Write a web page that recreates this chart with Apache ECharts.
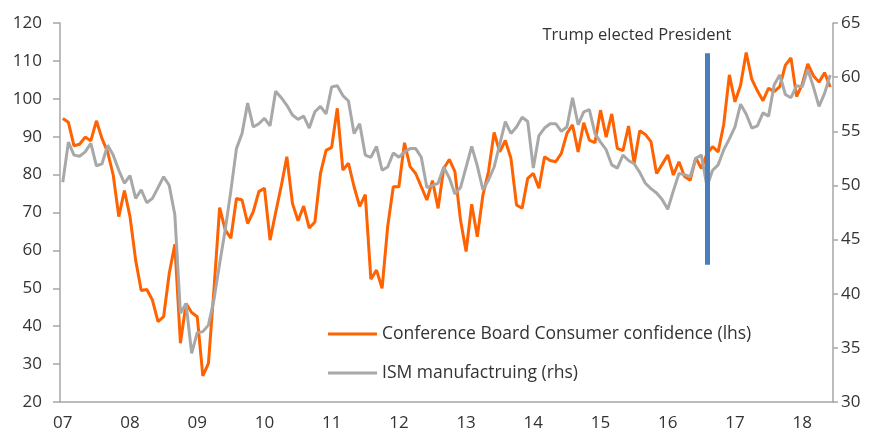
<!DOCTYPE html>
<html>
<head>
<meta charset="utf-8">
<script src="https://cdn.jsdelivr.net/npm/echarts@6/dist/echarts.min.js"></script>
<style>html,body{margin:0;padding:0;background:#fff}#c{width:872px;height:432px}</style>
</head>
<body>
<div id="c"></div>
<script>
// Monthly categories Jan 2007 – Jun 2018
const months = [];
for (let y = 2007; y <= 2018; y++) {
  for (let m = 1; m <= 12; m++) {
    if (y === 2018 && m > 6) break;
    months.push(y + '-' + (m < 10 ? '0' + m : '' + m));
  }
}

// Conference Board Consumer confidence (lhs)
const consumerConfidence = [
  94.8, 93.8, 87.6, 88.0, 89.9, 88.9, 94.2, 89.5, 86.0, 79.9, 68.9, 75.8,
  68.9, 57.5, 49.4, 49.7, 46.9, 41.2, 42.5, 53.9, 61.6, 35.5, 46.0, 43.6,
  42.5, 26.9, 30.2, 50.0, 71.3, 65.4, 63.2, 73.7, 73.3, 67.1, 70.2, 75.5,
  76.4, 62.7, 70.0, 77.0, 84.7, 72.4, 67.8, 71.7, 65.9, 67.5, 80.3, 86.4,
  87.2, 97.5, 81.2, 83.0, 76.8, 71.6, 74.7, 52.4, 54.8, 50.0, 66.3, 76.8,
  76.8, 88.4, 82.1, 80.3, 76.8, 73.3, 78.4, 71.1, 81.6, 84.0, 80.8, 68.0,
  59.7, 72.2, 63.6, 74.6, 80.8, 91.1, 86.0, 89.0, 84.3, 72.0, 71.1, 79.0,
  80.3, 76.4, 84.7, 83.7, 83.4, 85.6, 90.9, 93.1, 86.0, 93.7, 89.1, 88.4,
  97.0, 89.9, 96.0, 86.9, 86.3, 92.8, 83.0, 91.6, 90.6, 88.7, 80.3, 82.7,
  85.2, 79.9, 83.4, 79.5, 78.5, 84.4, 81.6, 85.5, 87.4, 86.0, 93.3, 106.3,
  99.2, 103.6, 112.2, 105.2, 102.1, 99.5, 102.8, 101.9, 103.2, 108.9, 110.8, 100.6,
  103.8, 109.2, 106.1, 104.4, 106.9, 103.1
];

// ISM manufacturing (rhs)
const ismManufacturing = [
  50.3, 54.0, 52.8, 52.7, 53.1, 53.9, 51.8, 52.0, 53.7, 52.8, 51.4, 50.2,
  50.9, 48.8, 49.6, 48.4, 48.8, 49.8, 50.8, 50.0, 47.3, 38.2, 39.1, 34.5,
  36.4, 36.5, 37.1, 39.5, 42.8, 45.9, 49.5, 53.4, 54.8, 57.6, 55.4, 55.7,
  56.2, 55.5, 58.7, 58.1, 57.4, 56.5, 56.1, 56.4, 55.3, 56.8, 57.3, 56.6,
  59.1, 59.2, 58.3, 57.8, 54.8, 55.7, 52.8, 52.6, 53.6, 51.4, 51.7, 53.0,
  52.6, 53.1, 53.4, 53.4, 52.6, 49.8, 50.0, 50.2, 51.7, 50.7, 49.2, 49.8,
  51.7, 53.6, 51.8, 49.6, 50.5, 51.7, 53.8, 55.9, 54.8, 55.4, 56.3, 55.9,
  51.6, 54.6, 55.3, 55.7, 55.7, 55.0, 55.4, 58.1, 55.6, 56.8, 57.0, 54.8,
  54.0, 53.3, 51.9, 51.6, 52.8, 52.3, 52.0, 51.2, 50.2, 49.7, 49.3, 48.7,
  47.8, 49.5, 51.1, 51.0, 50.8, 52.5, 52.8, 49.9, 51.4, 51.9, 53.3, 54.3,
  55.4, 57.5, 56.6, 55.3, 55.5, 56.7, 56.4, 59.3, 60.2, 58.4, 58.1, 59.2,
  59.1, 60.7, 59.1, 57.3, 58.5, 60.2
];

// Annotation: event month and vertical extent (lhs units)
const eventLabel = 'Trump elected President';
const eventMonth = '2016-08';
const eventRange = [56.2, 112.0];

const leftTicks = { min: 20, max: 120, interval: 10 };
const rightTicks = { min: 30, max: 65, interval: 5 };

const FONT = 'Open Sans';
const axisGrey = '#a6a6a6';
const textCol = '#333333';

const chart = echarts.init(document.getElementById('c'), null, { renderer: 'canvas' });
chart.setOption({
  animation: false,
  backgroundColor: '#ffffff',
  textStyle: { fontFamily: FONT },
  grid: { left: 60, right: 39, top: 23, bottom: 30, containLabel: false },
  legend: {
    orient: 'vertical',
    left: 323,
    top: 320,
    itemWidth: 49,
    itemHeight: 3,
    itemGap: 21,
    icon: 'rect',
    textStyle: { fontFamily: FONT, fontSize: 17.5, color: textCol },
    data: ['Conference Board Consumer confidence (lhs)', 'ISM manufactruing (rhs)']
  },
  xAxis: {
    type: 'category',
    data: months,
    boundaryGap: true,
    axisLine: { lineStyle: { color: axisGrey, width: 1.5 } },
    axisTick: { interval: 11, length: 6, lineStyle: { color: axisGrey, width: 1.5 } },
    axisLabel: {
      interval: 11,
      margin: 13,
      fontSize: 17,
      color: textCol,
      fontFamily: FONT,
      formatter: v => v.substr(2, 2)
    },
    splitLine: { show: false }
  },
  yAxis: [
    {
      type: 'value',
      position: 'left',
      min: leftTicks.min, max: leftTicks.max, interval: leftTicks.interval,
      axisLine: { show: true, lineStyle: { color: axisGrey, width: 1.5 } },
      axisTick: { show: true, length: 7, lineStyle: { color: axisGrey, width: 1.5 } },
      axisLabel: { margin: 18, fontSize: 17, color: textCol, fontFamily: FONT },
      splitLine: { show: false }
    },
    {
      type: 'value',
      position: 'right',
      min: rightTicks.min, max: rightTicks.max, interval: rightTicks.interval,
      axisLine: { show: true, lineStyle: { color: axisGrey, width: 1.5 } },
      axisTick: { show: true, length: 5, lineStyle: { color: axisGrey, width: 1.5 } },
      axisLabel: { margin: 8, fontSize: 17, color: textCol, fontFamily: FONT },
      splitLine: { show: false }
    }
  ],
  series: [
    {
      name: 'Conference Board Consumer confidence (lhs)',
      type: 'line',
      yAxisIndex: 0,
      data: consumerConfidence,
      showSymbol: false,
      symbol: 'none',
      lineStyle: { color: '#ff6200', width: 3 },
      itemStyle: { color: '#ff6200' },
      z: 2
    },
    {
      name: 'ISM manufactruing (rhs)',
      type: 'line',
      yAxisIndex: 1,
      data: ismManufacturing,
      showSymbol: false,
      symbol: 'none',
      lineStyle: { color: '#a8a8a8', width: 3 },
      itemStyle: { color: '#a8a8a8' },
      z: 3
    },
    {
      name: 'event',
      type: 'line',
      yAxisIndex: 0,
      data: [],
      z: 4,
      markLine: {
        silent: true,
        symbol: ['none', 'none'],
        lineStyle: { color: '#4a7ebb', width: 5, type: 'solid' },
        label: {
          show: true,
          position: 'end',
          formatter: eventLabel,
          fontFamily: FONT,
          fontSize: 16.5,
          color: textCol,
          offset: [-70, -5]
        },
        data: [[
          { coord: [eventMonth, eventRange[0]] },
          { coord: [eventMonth, eventRange[1]] }
        ]]
      }
    }
  ]
});
</script>
</body>
</html>
